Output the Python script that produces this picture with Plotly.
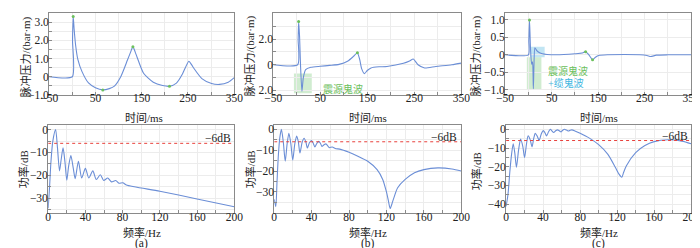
import plotly.graph_objects as go

# ---------------- data ----------------
# (a) top: far-field signature
ta = [-50, 0, 0.5, 2, 4, 7, 12, 21, 35, 50, 66, 80, 91, 105, 119, 126, 131, 136, 140, 154,
      175, 195, 210, 225, 238, 245, 252, 258, 263, 280, 301, 318, 337, 350]
va = [0, 0, 2.0, 3.3, 2.6, 1.77, 0.95, 0.28, -0.34, -0.6, -0.72, -0.65, -0.51, 0.02, 0.9, 1.35, 1.65, 1.35, 1.07, 0.19,
      -0.3, -0.48, -0.52, -0.35, 0.15, 0.54, 0.85, 0.65, 0.45, -0.1, -0.37, -0.42, -0.3, -0.05]
ta_pk = [2, 66, 131, 210]
va_pk = [3.3, -0.72, 1.65, -0.52]

# (b) top: with source ghost
tb = [-50, 2, 3, 4, 6, 8, 11, 14, 19, 30, 50, 70, 90, 109, 120, 129, 134, 138, 144, 150, 158, 175, 192,
      227, 240, 248, 258, 272, 296, 330, 350]
vb = [0, 0, 2.0, 3.37, 2.2, 0.0, -2.07, -1.0, -0.38, -0.2, -0.12, -0.05, 0.03, 0.3, 0.63, 0.94, 0.4, -0.3, -0.69, -0.45,
      -0.25, -0.16, -0.13, 0.12, 0.3, 0.45, 0.0, -0.25, -0.13, 0.0, 0.13]
tb_pk = [4, 129]
vb_pk = [3.37, 0.94]

# (c) top: with source + cable ghost
tc = [-50, 0, 1, 2.4, 4.5, 7, 9, 10.7, 12, 14, 18, 24, 30, 40, 60, 100, 115, 123, 130, 138, 145, 151,
      170, 240, 255, 263, 275, 300, 350]
vc = [0, 0, 0.4, 1.0, 0.2, -0.27, -0.2, -0.97, -0.3, 0.2, 0.12, 0.06, 0.03, 0.01, 0.0, 0.03, 0.05, 0.09, 0.0, -0.14,
      -0.06, -0.02, 0.0, 0.0, -0.02, -0.05, -0.01, 0.0, 0.0]
tc_pk = [2.4, 123, 138]
vc_pk = [1.0, 0.09, -0.14]

# (a) bottom: spectrum
fa = [0, 1.5, 3, 5, 8, 10, 12.2, 14, 16, 18, 20, 22, 24.4, 27, 29, 32.5, 36, 40, 43.6, 48, 51.7, 56, 59.7,
      64, 68, 72.6, 76, 80.3, 84, 120, 160, 200]
pa = [-34.5, -25, -14, -5, 0, -8, -18.1, -13, -8, -14, -22.2, -16, -11.4, -17, -21.5, -13.9, -21.2, -17, -21.2,
      -18.1, -21.9, -19.8, -22.3, -21.2, -22.9, -22.3, -23.5, -23.3, -24.3, -27, -30.4, -33.8]

# (b) bottom: spectrum
fb = [0, 1.7, 3, 4.5, 6, 7.7, 9.7, 11.8, 13.8, 15.7, 17.8, 19.8, 22, 24, 25.8, 27.5, 30, 32, 33.8, 35.5,
      37.6, 39.7, 41.5, 43.5, 45.5, 47.7, 49.5, 51, 53, 55.3, 57, 58.8, 62, 66, 70, 80, 90, 100, 110, 116,
      120, 122, 124, 126, 128, 132, 140, 150, 160, 175, 190, 200]
pb = [-33.5, -37, -25, -12, -4, 0, -6, -15.3, -7, -1.9, -7, -14.8, -7, -3.2, -6, -11.4, -6, -4.3, -6, -9,
      -6.5, -5.4, -6.5, -8.5, -6.8, -5.8, -6.8, -8.2, -7.5, -7, -7.8, -8.8, -8.5, -9.3, -9.5, -11, -13, -15.3, -19.3, -24,
      -30, -34, -37.9, -35.5, -32.7, -28, -24, -20.8, -19.3, -18.5, -19, -20]

# (c) bottom: spectrum
fc = [0, 2, 4, 6, 7.7, 9.5, 11.2, 13.5, 15.7, 18, 20, 22, 23.8, 26, 28, 30, 31.5, 33.5, 35.7, 38, 40.2,
      42, 43.7, 46, 47.9, 49.5, 51.4, 53.5, 55.6, 57.5, 59.4, 61.2, 63, 65.3, 67.5, 69.3, 71, 75, 80, 90, 100,
      110, 118, 122, 125, 127, 130, 140, 150, 160, 175, 190, 200]
pc = [-41.2, -35, -23, -13, -7.7, -13, -20.3, -11, -5.2, -9, -15.1, -8, -3.5, -5.5, -9.4, -4.5, -2.1, -3.5, -5.9, -2.5, -0.7,
      -1.8, -3.5, -1.2, 0, -0.8, -1.7, -0.8, -0.3, -0.8, -1.4, -0.5, 0, -0.4, -0.9, -0.5, -0.3, -1, -2.1, -4.7, -8.2,
      -13.4, -20.3, -24, -25.6, -23, -19.5, -12.5, -8.7, -6.6, -5.6, -6.3, -7.7]

ref_db = -6
t_ticks = [-50, 50, 150, 250, 350]
f_ticks = [0, 40, 80, 120, 160, 200]

# ---------------- styling ----------------
W, H = 700, 248
FONT = "Liberation Serif, Times New Roman, Noto Sans CJK SC, serif"
BLUE = "#6b8ed6"
GREEN = "#6cc05c"
CYAN = "#3fb6df"
RED = "#e8413c"
GRID = "#ececec"
AX = "#8a8a8a"


def px_x(a, b):
    return [a / W, b / W]


def px_y(top, bot):
    return [1 - bot / H, 1 - top / H]


fig = go.Figure()

panels_top = [
    dict(t=ta, v=va, tp=ta_pk, vp=va_pk, dom=px_x(33, 223)),
    dict(t=tb, v=vb, tp=tb_pk, vp=vb_pk, dom=px_x(263, 456)),
    dict(t=tc, v=vc, tp=tc_pk, vp=vc_pk, dom=px_x(501, 692)),
]
panels_bot = [
    dict(f=fa, p=pa, dom=px_x(32, 223)),
    dict(f=fb, p=pb, dom=px_x(264, 456)),
    dict(f=fc, p=pc, dom=px_x(502, 692)),
]

top_y = dict(
    yr=[[-1.0, 3.5], [-2.36, 4.05], [-1.15, 1.2]],
    tv=[[-1, -0.5, 0, 0.5, 1, 1.5, 2, 2.5, 3],
        [-2, -1, 0, 1, 2, 3, 4],
        [-1, -0.5, 0, 0.5, 1]],
    tt=[["−1.0", "", "0", "", "1.0", "", "2.0", "", "3.0"],
        ["2.0", "", "0", "", "2.0", "", "4.0"],
        ["−1.0", "−0.5", "0", "0.5", "1.0"]],
)
bot_y = dict(
    yr=[[-36.6, 2.2], [-40.1, 2.2], [-44.8, 2.5]],
    tv=[[-35, -30, -25, -20, -15, -10, -5, 0],
        [-40, -35, -30, -25, -20, -15, -10, -5, 0],
        [-40, -35, -30, -25, -20, -15, -10, -5, 0]],
    tt=[["", "−30", "", "−20", "", "−10", "", "0"],
        ["", "", "−30", "", "−20", "", "−10", "", "0"],
        ["−40", "", "−30", "", "−20", "", "−10", "", "0"]],
)

axis_common = dict(showline=True, linecolor=AX, linewidth=1, mirror=True,
                   showgrid=True, gridcolor=GRID, gridwidth=1, zeroline=False,
                   ticks="inside", ticklen=3, tickcolor=AX,
                   tickfont=dict(family=FONT, size=11.5, color="#222"))

layout = {}
tv_t = list(range(-50, 351, 50))
tt_t = [("−50" if v == -50 else str(v)) if v in t_ticks else "" for v in tv_t]
tv_f = list(range(0, 201, 20))
tt_f = [str(v) if v in f_ticks else "" for v in tv_f]

for i, P in enumerate(panels_top):
    n = i + 1
    xa, ya = f"x{n}", f"y{n}"
    fig.add_trace(go.Scatter(x=P["t"], y=P["v"], mode="lines", xaxis=xa, yaxis=ya,
                             line=dict(color=BLUE, width=1.1, shape="spline", smoothing=0.6),
                             showlegend=False, hoverinfo="skip"))
    fig.add_trace(go.Scatter(x=P["tp"], y=P["vp"], mode="markers", xaxis=xa, yaxis=ya,
                             marker=dict(color=GREEN, size=3), showlegend=False, hoverinfo="skip"))
    layout[f"xaxis{n}"] = dict(axis_common, domain=P["dom"], anchor=ya, range=[-50, 350],
                               tickmode="array", tickvals=tv_t, ticktext=tt_t, ticklabelstandoff=-8)
    layout[f"yaxis{n}"] = dict(axis_common, domain=px_y(4, 88.5), anchor=xa, range=top_y["yr"][i],
                               tickmode="array", tickvals=top_y["tv"][i], ticktext=top_y["tt"][i],
                               ticklabelstandoff=-3)

for i, P in enumerate(panels_bot):
    n = i + 4
    xa, ya = f"x{n}", f"y{n}"
    fig.add_trace(go.Scatter(x=P["f"], y=P["p"], mode="lines", xaxis=xa, yaxis=ya,
                             line=dict(color=BLUE, width=1.1, shape="spline", smoothing=0.7),
                             showlegend=False, hoverinfo="skip"))
    fig.add_trace(go.Scatter(x=[0, 200], y=[ref_db, ref_db], mode="lines", xaxis=xa, yaxis=ya,
                             line=dict(color=RED, width=1, dash="dot"),
                             showlegend=False, hoverinfo="skip"))
    layout[f"xaxis{n}"] = dict(axis_common, domain=P["dom"], anchor=ya, range=[0, 200],
                               tickmode="array", tickvals=tv_f, ticktext=tt_f, ticklabelstandoff=-7)
    layout[f"yaxis{n}"] = dict(axis_common, domain=px_y(119, 210), anchor=xa, range=bot_y["yr"][i],
                               tickmode="array", tickvals=bot_y["tv"][i], ticktext=bot_y["tt"][i],
                               ticklabelstandoff=-3)
    fig.add_annotation(x=182, y=ref_db, xref=xa, yref=ya, text="−6dB", showarrow=False,
                       yanchor="bottom", yshift=-3, font=dict(family=FONT, size=11.5, color="#222"))

# ghost-wave highlight boxes
fig.add_shape(type="rect", xref="x2", yref="y2", x0=-6, x1=32, y0=-2.23, y1=-0.68,
              fillcolor="rgba(120,200,120,0.35)", line_width=0, layer="below")
fig.add_annotation(x=52, y=-1.9, xref="x2", yref="y2", text="震源鬼波", showarrow=False,
                   xanchor="left", yanchor="middle", font=dict(family=FONT, size=10, color=GREEN))
fig.add_shape(type="rect", xref="x3", yref="y3", x0=-3.3, x1=28, y0=-1.0, y1=-0.07,
              fillcolor="rgba(120,200,120,0.35)", line_width=0, layer="below")
fig.add_shape(type="rect", xref="x3", yref="y3", x0=4, x1=35, y0=-0.07, y1=0.23,
              fillcolor="rgba(100,190,225,0.4)", line_width=0, layer="below")
fig.add_annotation(x=38, y=-0.46, xref="x3", yref="y3", text="震源鬼波", showarrow=False,
                   xanchor="left", yanchor="middle", font=dict(family=FONT, size=10, color=GREEN))
fig.add_annotation(x=38, y=-0.8, xref="x3", yref="y3", text="+缆鬼波", showarrow=False,
                   xanchor="left", yanchor="middle", font=dict(family=FONT, size=10, color=CYAN))

# axis titles and panel labels (pixel positions)
def ann(x, y, text, angle=0, size=11):
    fig.add_annotation(x=x / W, y=1 - y / H, xref="paper", yref="paper", text=text, showarrow=False,
                       textangle=angle, xanchor="center", yanchor="middle",
                       font=dict(family=FONT, size=size, color="#222"))

for xc, yl in [(9, 49), (239, 48), (471, 48)]:
    ann(xc, yl, "脉冲压力/(bar·m)", -90)
for xc in [130, 360, 597]:
    ann(xc, 112.5, "时间/ms")
for xc, yc in [(7, 165), (239, 165), (471, 167)]:
    ann(xc, yc, "功率/dB", -90)
for xc in [128, 360, 597]:
    ann(xc, 230.5, "频率/Hz")
for xc, lab in [(128, "(a)"), (360, "(b)"), (597, "(c)")]:
    ann(xc, 241.5, lab, size=11.5)

fig.update_layout(**layout)
fig.update_layout(width=W, height=H, margin=dict(l=0, r=0, t=0, b=0),
                  paper_bgcolor="white", plot_bgcolor="white", showlegend=False)

fig.write_html("out.html")
